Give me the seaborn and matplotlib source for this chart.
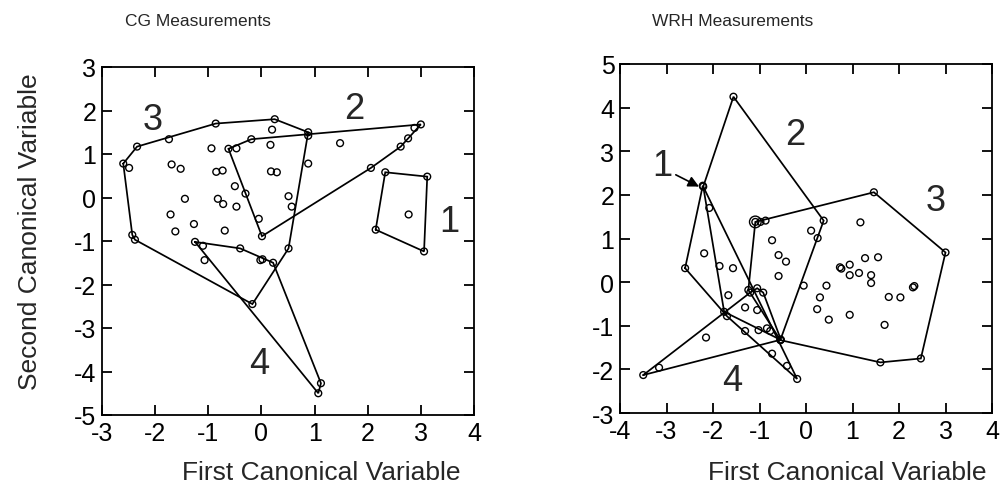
import numpy as np
import pandas as pd
import matplotlib
matplotlib.use("Agg")
import matplotlib.pyplot as plt
import seaborn as sns

sns.set_theme(style="ticks")
plt.rcParams['font.family'] = ['Liberation Sans', 'DejaVu Sans']
plt.rcParams['axes.unicode_minus'] = False

# ---------------- CG measurements (left panel) ----------------
cg_c1_x = [2.33, 3.12, 2.77, 2.15, 3.06]
cg_c1_y = [0.58, 0.48, -0.39, -0.74, -1.24]

cg_c2_x = [-0.62, -0.47, -0.19, 0.88, 2.88, 3.00, 2.76, 2.62, 2.06, 1.48, 0.17,
           0.18, 0.29, 0.88, 0.51, 0.57, -0.05, 0.01]
cg_c2_y = [1.12, 1.13, 1.34, 1.42, 1.60, 1.68, 1.36, 1.17, 0.68, 1.25, 1.21,
           0.60, 0.58, 0.78, 0.03, -0.21, -0.49, -0.89]

cg_c3_x = [-2.60, -2.49, -2.34, -0.86, 0.25, 0.20, 0.88, 0.51, -0.17, -2.38,
           -2.43, -1.74, -0.94, -1.69, -1.52, -0.85, -0.73, -1.44, -0.82, -0.72,
           -1.71, -1.27, -1.62, -0.69, -0.50, -0.30, -0.47, -1.07]
cg_c3_y = [0.78, 0.68, 1.17, 1.70, 1.80, 1.56, 1.50, -1.17, -2.45, -0.97,
           -0.86, 1.34, 1.13, 0.76, 0.66, 0.59, 0.62, -0.03, -0.03, -0.15,
           -0.39, -0.61, -0.78, -0.76, 0.26, 0.09, -0.21, -1.44]

cg_c4_x = [-1.25, -1.10, -0.40, -0.02, 0.02, 0.22, 1.12, 1.07]
cg_c4_y = [-1.02, -1.11, -1.17, -1.44, -1.42, -1.50, -4.27, -4.50]

# ---------------- WRH measurements (right panel) ----------------
wrh_c1_x = [-2.22, -2.08, -2.60, -2.19, -1.86, -1.57, -1.67, -1.31, -1.05,
            -1.70, -0.73, -0.41, -0.19]
wrh_c1_y = [2.21, 1.70, 0.32, 0.66, 0.37, 0.32, -0.30, -0.58, -0.64,
            -0.78, -1.64, -1.92, -2.22]

wrh_c2_x = [-1.56, 0.38, -0.55, -1.76, -2.21, -0.73, -0.59, -0.43, -0.59, 0.11]
wrh_c2_y = [4.25, 1.41, -1.32, -0.68, 2.19, 0.96, 0.62, 0.47, 0.14, 1.18]

wrh_c3_x = [-1.09, -0.98, -0.87, 1.46, 3.00, 2.47, 1.60, -0.55, -1.24, 1.17,
            0.73, 0.76, 0.94, 0.94, 1.14, 1.27, 1.55, 1.40, 1.40, 2.30, 2.33,
            0.44, 0.30, 0.24, 0.49, 0.94, 1.78, 2.03, 1.69, -0.05, 0.25]
wrh_c3_y = [1.38, 1.38, 1.41, 2.06, 0.68, -1.75, -1.84, -1.33, -0.18, 1.37,
            0.34, 0.31, 0.40, 0.16, 0.21, 0.55, 0.57, 0.16, -0.02, -0.12, -0.09,
            -0.08, -0.35, -0.62, -0.86, -0.75, -0.34, -0.35, -0.98, -0.08, 1.01]

wrh_c4_x = [-3.50, -3.16, -1.20, -1.05, -0.92, -0.54, -2.15, -1.31, -1.02,
            -0.84, -0.77]
wrh_c4_y = [-2.13, -1.96, -0.24, -0.14, -0.24, -1.32, -1.27, -1.12, -1.10,
            -1.06, -1.12]

# one larger circle in the WRH panel
wrh_big_x = [-1.09]
wrh_big_y = [1.38]

cluster_names = ["1", "2", "3", "4"]
cg_label_pos = [(3.53, -0.56), (1.75, 2.04), (-2.04, 1.79), (-0.04, -3.81)]
wrh_label_pos = [(-3.10, 2.67), (-0.23, 3.39), (2.79, 1.86), (-1.59, -2.26)]

cg_xticks = list(range(-3, 5))
cg_yticks = list(range(-5, 4))
wrh_xticks = list(range(-4, 5))
wrh_yticks = list(range(-3, 6))


def hull(xs, ys):
    pts = sorted(set(zip(xs, ys)))
    if len(pts) < 3:
        return pts

    def cross(o, a, b):
        return (a[0] - o[0]) * (b[1] - o[1]) - (a[1] - o[1]) * (b[0] - o[0])
    lower, upper = [], []
    for p in pts:
        while len(lower) >= 2 and cross(lower[-2], lower[-1], p) <= 0:
            lower.pop()
        lower.append(p)
    for p in reversed(pts):
        while len(upper) >= 2 and cross(upper[-2], upper[-1], p) <= 0:
            upper.pop()
        upper.append(p)
    h = lower[:-1] + upper[:-1]
    return h + [h[0]]


def make_df(groups):
    rows = []
    for name, (xs, ys) in zip(cluster_names, groups):
        for x, y in zip(xs, ys):
            rows.append({"x": x, "y": y, "cluster": name})
    return pd.DataFrame(rows)


cg_groups = [(cg_c1_x, cg_c1_y), (cg_c2_x, cg_c2_y), (cg_c3_x, cg_c3_y), (cg_c4_x, cg_c4_y)]
wrh_groups = [(wrh_c1_x, wrh_c1_y), (wrh_c2_x, wrh_c2_y), (wrh_c3_x, wrh_c3_y), (wrh_c4_x, wrh_c4_y)]

W, H = 1006, 502
fig = plt.figure(figsize=(W / 100, H / 100), dpi=100)
ax1 = fig.add_axes([102 / W, 1 - 416 / H, 372 / W, 348 / H])
ax2 = fig.add_axes([620 / W, 1 - 414 / H, 372 / W, 349 / H])


def draw(ax, groups, label_pos, xticks, yticks):
    df = make_df(groups)
    for xs, ys in groups:
        h = hull(xs, ys)
        hx = [p[0] for p in h]
        hy = [p[1] for p in h]
        ax.plot(hx, hy, color="black", lw=1.25, zorder=2, solid_joinstyle="miter")
    sns.scatterplot(data=df, x="x", y="y", ax=ax, marker="o", s=24,
                    fc="none", ec="black", linewidth=1.0, legend=False, zorder=3)
    for name, (lx, ly) in zip(cluster_names, label_pos):
        ax.text(lx, ly, name, fontsize=26, ha="center", va="center")
    ax.set_xlim(xticks[0], xticks[-1])
    ax.set_ylim(yticks[0], yticks[-1])
    ax.set_xticks(xticks)
    ax.set_yticks(yticks)
    ax.set_xticklabels([str(t) for t in xticks])
    ax.set_yticklabels([str(t) for t in yticks])
    ax.tick_params(direction="in", length=7, width=1.3, top=True, right=True,
                   labelsize=18, pad=4, colors="black")
    ax.set_xlabel("")
    ax.set_ylabel("")
    for sp in ax.spines.values():
        sp.set_linewidth(1.3)
        sp.set_color("black")


draw(ax1, cg_groups, cg_label_pos, cg_xticks, cg_yticks)
draw(ax2, wrh_groups, wrh_label_pos, wrh_xticks, wrh_yticks)
sns.scatterplot(x=wrh_big_x, y=wrh_big_y, ax=ax2, marker="o", s=70,
                fc="none", ec="black", linewidth=1.0, legend=False, zorder=3)

ax2.annotate("", xy=(-2.30, 2.19), xytext=(-2.80, 2.46),
             arrowprops=dict(arrowstyle="-|>", color="black", lw=1.2,
                             mutation_scale=16, shrinkA=0, shrinkB=0))

fig.text(125 / W, 1 - 22 / H, "CG Measurements", fontsize=12.5, ha="left", va="center")
fig.text(652 / W, 1 - 22 / H, "WRH Measurements", fontsize=12.5, ha="left", va="center")
fig.text(321 / W, 1 - 473 / H, "First Canonical Variable", fontsize=19, ha="center", va="center")
fig.text(847 / W, 1 - 473 / H, "First Canonical Variable", fontsize=19, ha="center", va="center")
fig.text(30 / W, 1 - 232 / H, "Second Canonical Variable", fontsize=19, ha="center",
         va="center", rotation=90)

fig.savefig("out.png", dpi=100)
